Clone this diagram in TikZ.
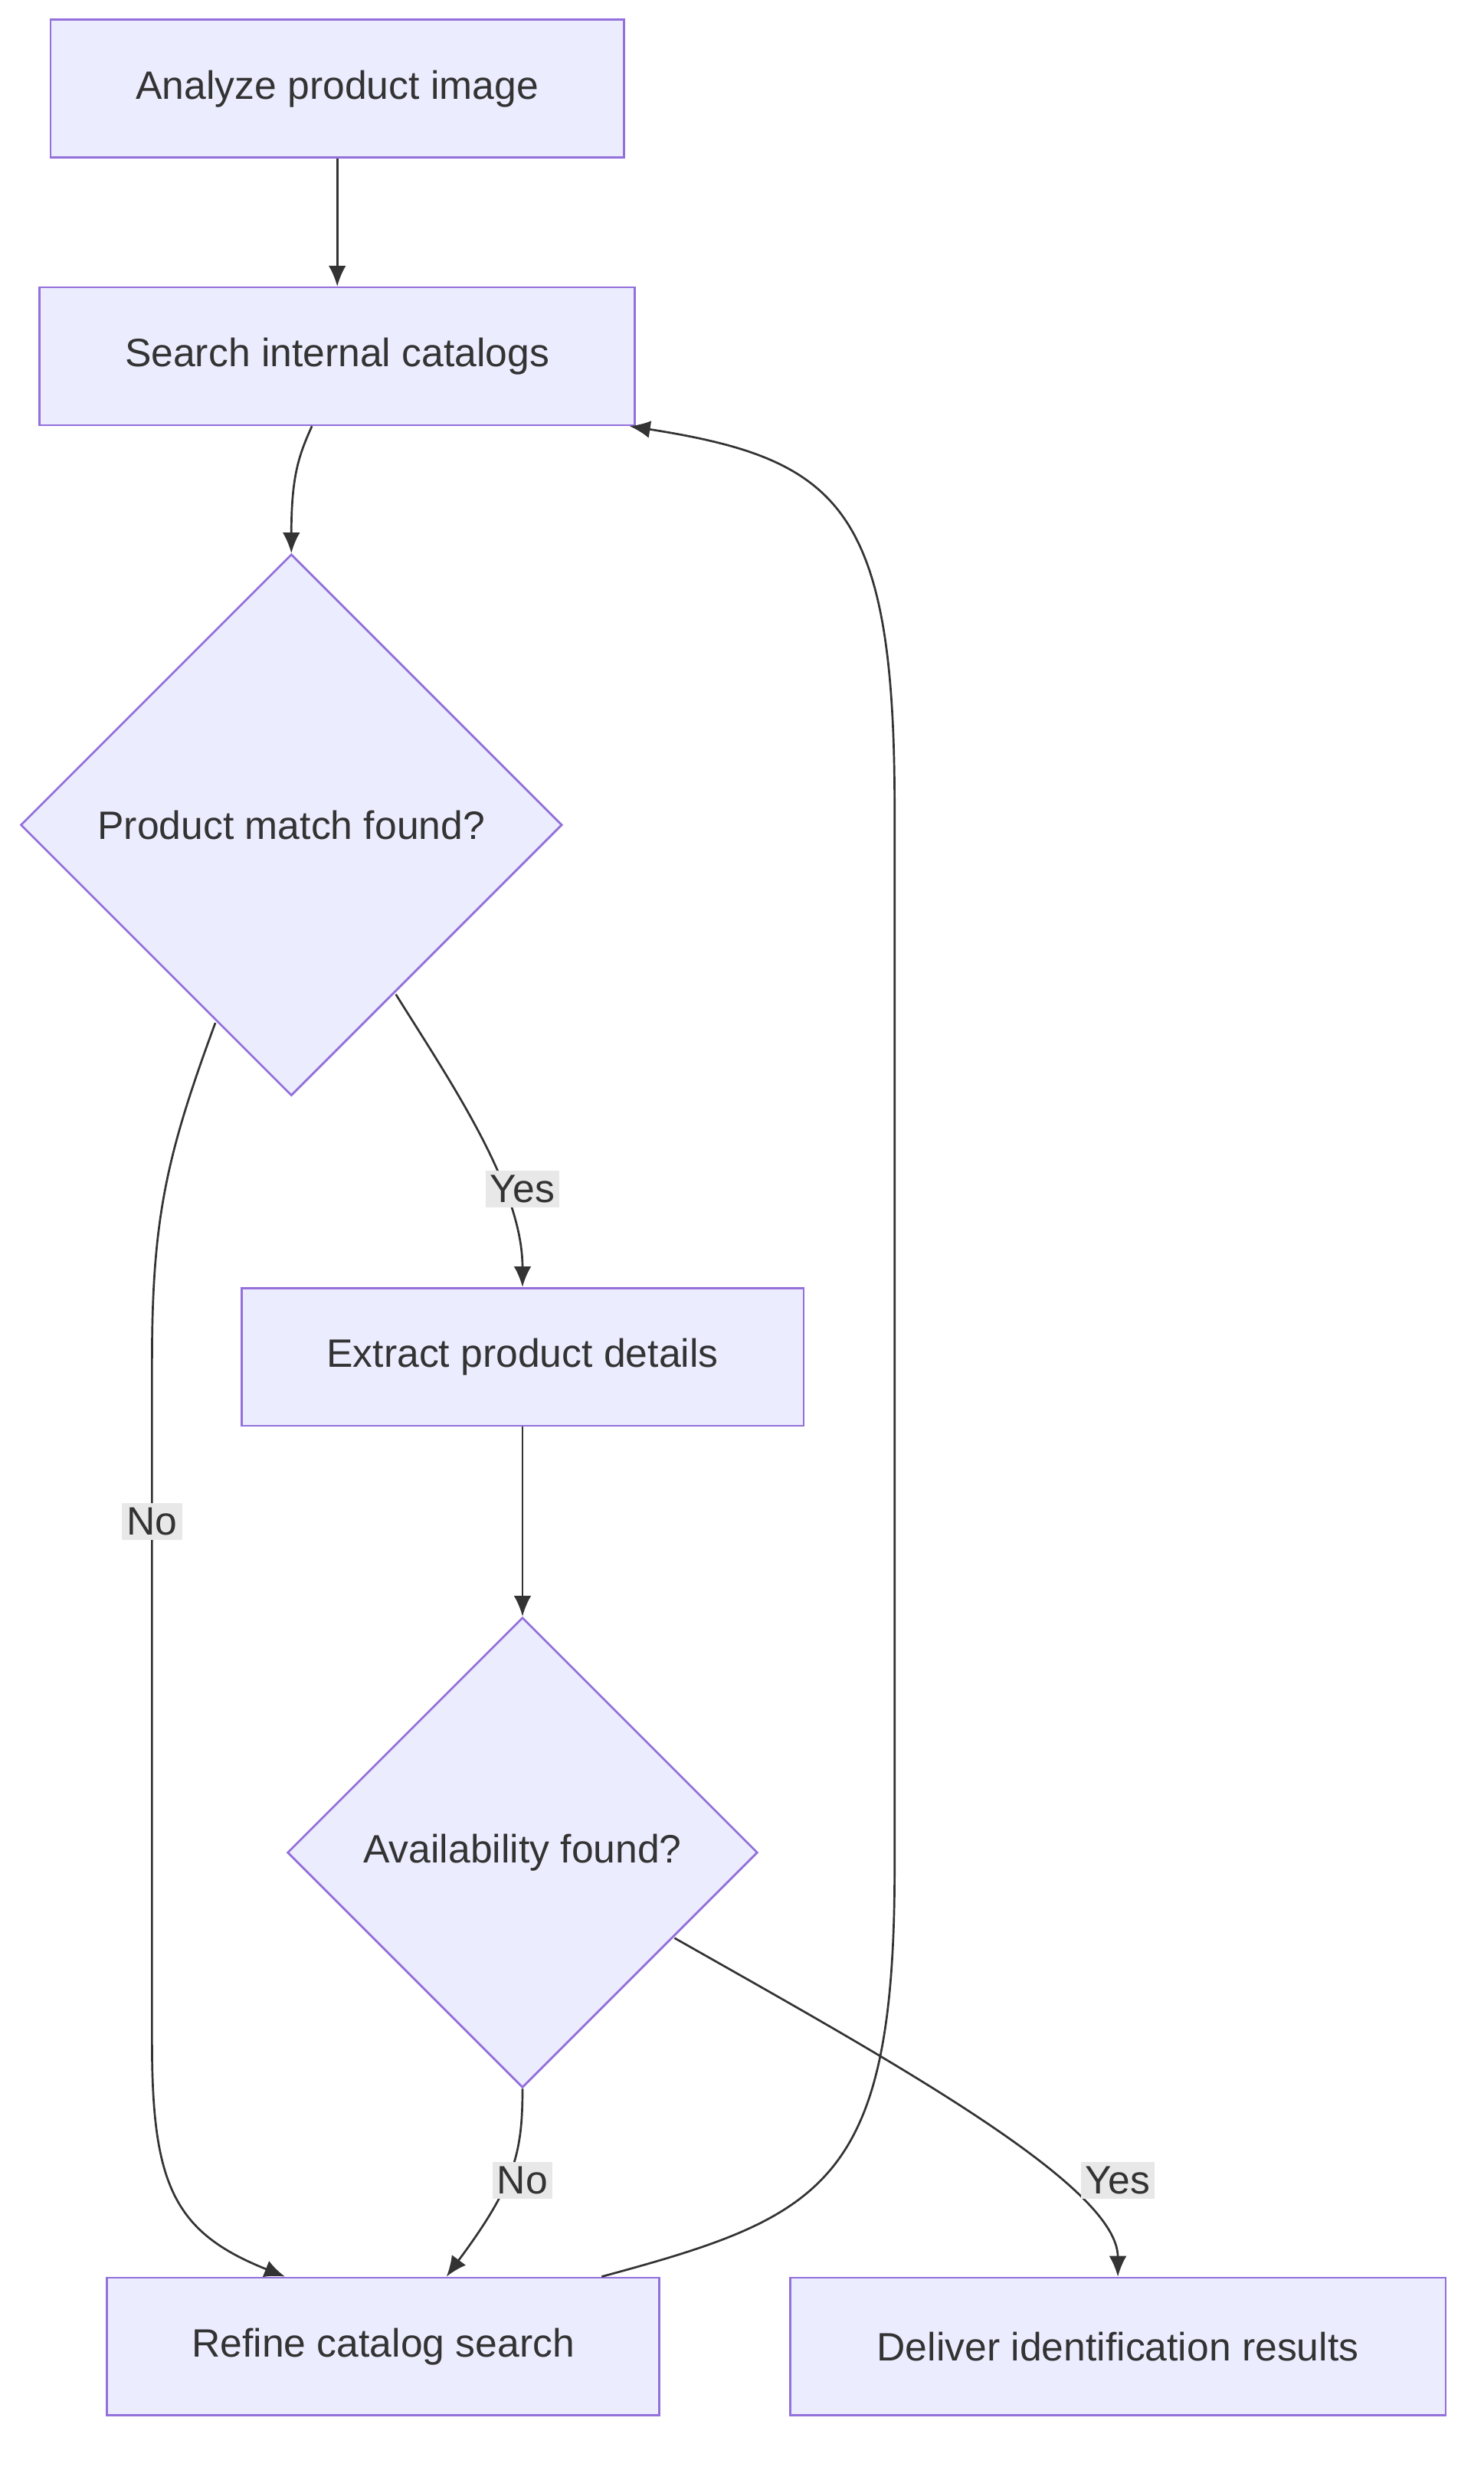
\documentclass[tikz,border=0pt]{standalone}
\usepackage{fontspec}
\setmainfont{Liberation Sans}
\usetikzlibrary{shapes.geometric,arrows.meta,calc}
\definecolor{nfill}{HTML}{ECECFF}
\definecolor{nline}{HTML}{9370DB}
\definecolor{txt}{HTML}{333333}
\definecolor{lbl}{HTML}{E8E8E8}
\begin{document}
\begin{tikzpicture}[x=1pt,y=-1pt,
  font=\fontsize{25}{30}\selectfont, text=txt,
  box/.style={draw=nline,fill=nfill,line width=1.3pt,rectangle,inner sep=0pt},
  dia/.style={draw=nline,fill=nfill,line width=1.3pt,diamond,aspect=1,inner sep=0pt},
  edge/.style={draw=txt,line width=1.3pt,-{Latex[length=13pt,width=11pt]}},
  elbl/.style={fill=lbl,inner sep=3pt,text=txt}]
\fill[white] (0,0) rectangle (937,1560);
\useasboundingbox (0,0) rectangle (937,1560);
\node[box,minimum width=362pt,minimum height=87pt] (A) at (213,56) {Analyze product image};
\node[box,minimum width=376pt,minimum height=87pt] (B) at (213,225) {Search internal catalogs};
\node[dia,minimum width=342pt,minimum height=342pt] (C) at (184,521) {Product match found?};
\node[box,minimum width=355pt,minimum height=87pt] (D) at (330,857) {Extract product details};
\node[dia,minimum width=297pt,minimum height=297pt] (E) at (330,1170) {Availability found?};
\node[box,minimum width=349pt,minimum height=87pt] (F) at (242,1482) {Refine catalog search};
\node[box,minimum width=414pt,minimum height=87pt] (G) at (706,1482) {Deliver identification results};

\draw[edge] (A) -- (B);
\draw[edge] ($(B.south)+(-16,0)$) .. controls (189,287) and (184,300) .. (C.north);
\draw[edge] ($(C)+(66,107)$) .. controls (285,684) and (330,750) .. (D.north);
\node[elbl] at (330,751) {Yes};
\draw[edge] ($(C)+(-48,125)$) .. controls (105,730) and (96,770) .. (96,860) -- (96,1290) .. controls (96,1380) and (110,1410) .. ($(F.north)+(-62,0)$);
\node[elbl] at (96,961) {No};
\draw[edge] (D) -- (E.north);
\draw[edge] (E.south) .. controls (330,1360) and (325,1380) .. ($(F.north)+(40,0)$);
\node[elbl] at (330,1377) {No};
\draw[edge] ($(E)+(96,54)$) .. controls (560,1300) and (706,1380) .. (G.north);
\node[elbl] at (706,1377) {Yes};
\draw[edge] ($(F.north)+(138,0)$) .. controls (520,1400) and (565,1380) .. (565,1180) -- (565,510) .. controls (565,320) and (530,290) .. ($(B.south east)+(-4,0)$);
\end{tikzpicture}
\end{document}
